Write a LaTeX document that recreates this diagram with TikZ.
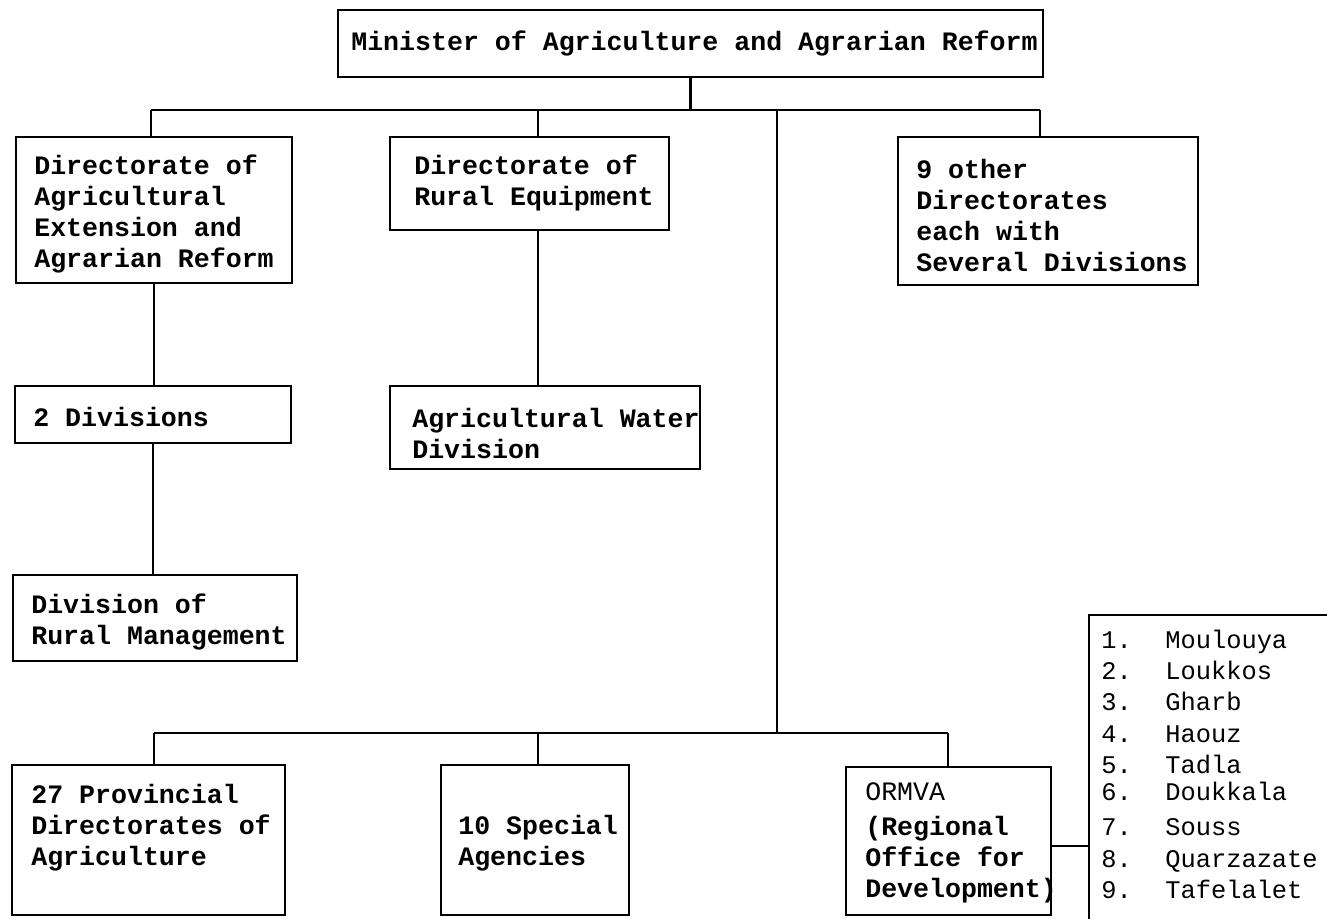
\documentclass[tikz,border=0pt]{standalone}
\usepackage{fontspec}
\newfontfamily\tw{Liberation Mono}
\usetikzlibrary{fit}
\begin{document}
\begin{tikzpicture}[x=0.5pt,y=-0.5pt,line width=1.3pt,
  box/.style={draw, rectangle, inner sep=0pt},
  txt/.style={inner sep=0pt, align=left, anchor=west, font=\tw\bfseries\fontsize{13.3}{15.5}\selectfont},
  lst/.style={inner sep=0pt, anchor=west, text height=9pt, text depth=2.5pt, font=\tw\fontsize{12.7}{15}\selectfont}]
\fill[white] (0,0) rectangle (1327,919);
\useasboundingbox (0,0) rectangle (1327,919);
\clip (0,0) rectangle (1327,919);
% boxes
\node[box, fit={(338,10) (1043,77)}] (top) {};
\node[box, fit={(16,137) (292,283)}] (d1) {};
\node[box, fit={(390,137) (669,230)}] (d2) {};
\node[box, fit={(898,137) (1198,285)}] (d3) {};
\node[box, fit={(15,386) (291,443)}] (div2) {};
\node[box, fit={(390,386) (700,469)}] (water) {};
\node[box, fit={(13,575) (297,661)}] (drm) {};
\node[box, fit={(12,765) (285,915)}] (prov) {};
\node[box, fit={(441,765) (629,915)}] (spec) {};
\node[box, fit={(846,767) (1051,915)}] (ormva) {};
\node[box, fit={(1089,615) (1400,960)}] (list) {};
% texts
\node[txt] (topt) at (350,43) {Minister of Agriculture and Agrarian Reform};
\node[txt] (d1t) at (33,214) {Directorate of\\Agricultural\\Extension and\\Agrarian Reform};
\node[txt] (d2t) at (413,183) {Directorate of\\Rural Equipment};
\node[txt] (d3t) at (915,215) {9 other\\Directorates\\each with\\Several Divisions};
\node[txt] (div2t) at (32,417) {2 Divisions};
\node[txt] (watert) at (411,433) {Agricultural Water\\Division};
\node[txt] (drmt) at (30,622) {Division of\\Rural Management};
\node[txt] (provt) at (30,828) {27 Provincial\\Directorates of\\Agriculture};
\node[txt] (spect) at (457,843) {10 Special\\Agencies};
\node[txt, font=\tw\fontsize{13.3}{15.5}\selectfont] (ormt1) at (864,792) {ORMVA};
\node[txt] (ormt2) at (864,860) {(Regional\\Office for\\Development)};
% list
\node[lst] (n1) at (1100,642) {1.};  \node[lst] (m1) at (1164,642) {Moulouya};
\node[lst] (n2) at (1100,673) {2.};  \node[lst] (m2) at (1164,673) {Loukkos};
\node[lst] (n3) at (1100,704) {3.};  \node[lst] (m3) at (1164,704) {Gharb};
\node[lst] (n4) at (1100,736) {4.};  \node[lst] (m4) at (1164,736) {Haouz};
\node[lst] (n5) at (1100,767) {5.};  \node[lst] (m5) at (1164,767) {Tadla};
\node[lst] (n6) at (1100,794) {6.};  \node[lst] (m6) at (1164,794) {Doukkala};
\node[lst] (n7) at (1100,829) {7.};  \node[lst] (m7) at (1164,829) {Souss};
\node[lst] (n8) at (1100,861) {8.};  \node[lst] (m8) at (1164,861) {Quarzazate};
\node[lst] (n9) at (1100,892) {9.};  \node[lst] (m9) at (1164,892) {Tafelalet};
% junctions
\coordinate (b1) at (151,110);
\coordinate (b2) at (538,110);
\coordinate (b3) at (777,110);
\coordinate (b4) at (1040,110);
\coordinate (c1) at (154,733);
\coordinate (c2) at (538,733);
\coordinate (c3) at (777,733);
\coordinate (c4) at (948,733);
% connectors
\draw (top.south) -- (top.south |- b1);
\draw (b1) -- (b4);
\draw (b1) -- (b1 |- d1.north);
\draw (b2) -- (b2 |- d2.north);
\draw (b4) -- (b4 |- d3.north);
\draw (b3) -- (c3);
\draw (d1.south) -- (d1.south |- div2.north);
\draw (div2.south) -- (div2.south |- drm.north);
\draw (d2.south -| b2) -- (water.north -| b2);
\draw (c1) -- (c4);
\draw (c1) -- (c1 |- prov.north);
\draw (c2) -- (c2 |- spec.north);
\draw (c4) -- (c4 |- ormva.north);
\draw ([yshift=-2.5pt]ormva.east) -- ([yshift=-2.5pt]ormva.east -| list.west);
\end{tikzpicture}
\end{document}
